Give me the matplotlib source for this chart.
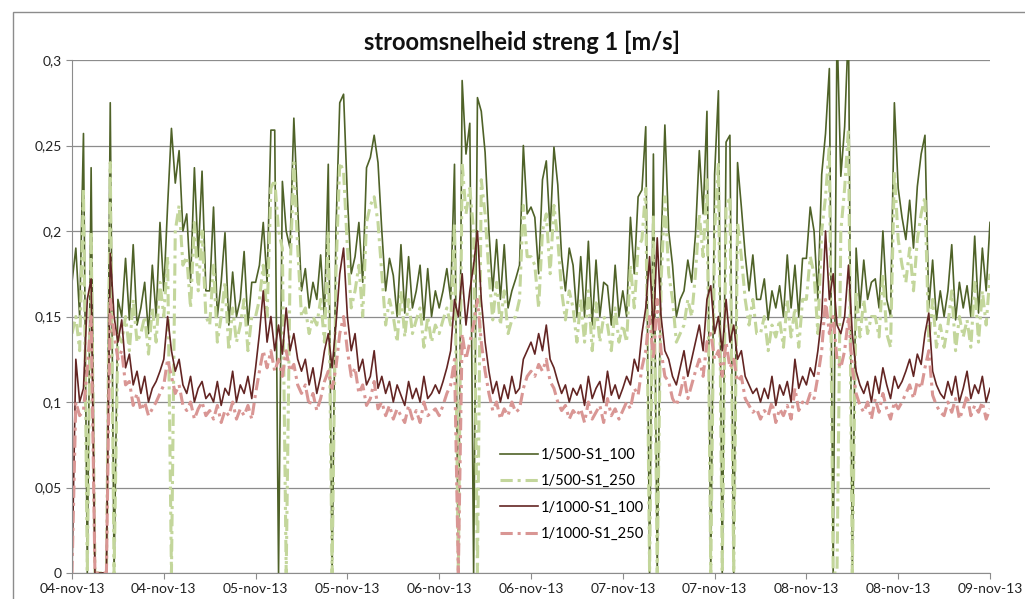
import matplotlib
matplotlib.use('Agg')

import matplotlib.pyplot as plt
import matplotlib.patches as patches
import numpy as np
import pandas as pd

plt.rcParams['font.family'] = ['Lato', 'DejaVu Sans']

# stroomsnelheid per half uur, in mm/s
s500_100 = [
    170, 190, 150, 257, 0, 237, 0, 0, 0, 0, 275, 0,
    160, 150, 184, 148, 192, 145, 155, 170, 140, 180, 150, 205,
    165, 215, 260, 228, 247, 200, 210, 170, 237, 185, 235, 165,
    165, 214, 150, 170, 199, 145, 176, 150, 160, 188, 145, 170,
    170, 180, 205, 170, 259, 259, 0, 229, 200, 190, 266, 214,
    165, 178, 155, 170, 160, 186, 150, 239, 0, 200, 275, 280,
    220, 175, 185, 205, 170, 237, 243, 256, 240, 200, 165, 184,
    174, 150, 192, 152, 185, 155, 165, 180, 148, 178, 150, 165,
    155, 165, 178, 160, 239, 0, 288, 245, 263, 0, 278, 270,
    246, 200, 165, 195, 160, 192, 155, 165, 172, 180, 250, 210,
    214, 208, 175, 230, 241, 200, 249, 227, 185, 165, 190, 180,
    150, 185, 150, 194, 145, 183, 150, 170, 168, 145, 180, 150,
    165, 150, 208, 175, 220, 224, 261, 0, 245, 0, 190, 262,
    200, 180, 150, 160, 165, 183, 170, 198, 247, 210, 270, 0,
    233, 282, 0, 252, 256, 0, 240, 214, 186, 165, 186, 160,
    160, 172, 148, 165, 155, 168, 150, 186, 155, 180, 150, 184,
    184, 214, 200, 160, 233, 257, 295, 0, 320, 232, 261, 320,
    0, 190, 155, 183, 160, 170, 172, 155, 200, 160, 150, 275,
    225, 208, 195, 218, 190, 226, 245, 256, 155, 183, 148, 165,
    150, 165, 192, 148, 170, 155, 168, 150, 197, 152, 190, 165, 205,
]

s500_250 = [
    140, 150, 130, 225, 0, 200, 0, 0, 0, 0, 240, 0,
    140, 135, 150, 130, 160, 135, 140, 150, 128, 155, 135, 170,
    150, 185, 0, 200, 215, 180, 185, 155, 205, 165, 200, 150,
    145, 180, 135, 150, 170, 130, 155, 135, 145, 160, 130, 150,
    150, 160, 180, 150, 225, 230, 200, 190, 0, 175, 240, 190,
    150, 155, 140, 150, 145, 160, 135, 200, 0, 175, 240, 235,
    190, 155, 165, 180, 150, 205, 215, 220, 205, 175, 145, 160,
    150, 135, 165, 138, 160, 140, 148, 155, 132, 150, 135, 145,
    140, 148, 155, 145, 205, 0, 240, 210, 225, 200, 0, 230,
    210, 175, 148, 170, 145, 165, 140, 148, 150, 160, 215, 185,
    185, 180, 155, 200, 210, 175, 215, 195, 165, 148, 165, 155,
    135, 160, 135, 165, 130, 158, 135, 150, 145, 130, 155, 135,
    145, 135, 180, 155, 190, 195, 225, 0, 210, 0, 170, 220,
    175, 160, 135, 140, 145, 160, 150, 175, 210, 185, 230, 0,
    200, 240, 0, 215, 220, 0, 205, 185, 160, 145, 160, 140,
    140, 150, 130, 145, 138, 148, 132, 160, 138, 155, 132, 160,
    160, 185, 175, 140, 200, 220, 250, 0, 0, 200, 225, 260,
    0, 165, 138, 160, 140, 150, 150, 138, 175, 140, 132, 235,
    195, 180, 170, 190, 165, 195, 210, 220, 135, 160, 132, 145,
    132, 145, 165, 130, 150, 138, 148, 132, 170, 135, 165, 145, 175,
]

s1000_100 = [
    0, 125, 100, 108, 160, 172, 0, 0, 0, 0, 187, 150,
    135, 148, 120, 128, 110, 118, 105, 115, 100, 108, 112, 118,
    125, 150, 130, 118, 125, 110, 105, 115, 100, 108, 112, 102,
    105, 100, 112, 98, 108, 104, 118, 100, 110, 105, 115, 102,
    120, 140, 165, 135, 150, 130, 145, 128, 155, 130, 140, 125,
    118, 125, 110, 120, 105, 115, 130, 140, 120, 145, 175, 190,
    150, 130, 140, 118, 125, 110, 115, 130, 108, 115, 105, 112,
    100, 110, 104, 98, 112, 102, 108, 100, 115, 102, 105, 110,
    105, 112, 120, 130, 160, 150, 175, 145, 165, 180, 200, 160,
    135, 118, 105, 112, 100, 110, 102, 115, 105, 108, 125, 130,
    135, 128, 140, 130, 145, 125, 120, 112, 105, 110, 100, 108,
    104, 110, 98, 115, 102, 108, 112, 100, 118, 104, 110, 102,
    108, 115, 110, 125, 118, 140, 155, 185, 140, 196, 150, 130,
    125, 115, 110, 120, 130, 115, 125, 135, 145, 130, 160, 168,
    140, 150, 130, 160, 135, 145, 125, 130, 115, 110, 105, 108,
    100, 108, 102, 115, 98, 110, 104, 112, 100, 125, 108, 115,
    110, 120, 115, 130, 150, 200, 160, 175, 145, 140, 150, 180,
    140, 118, 110, 105, 112, 100, 115, 105, 120, 110, 102, 115,
    108, 112, 118, 125, 115, 128, 122, 140, 152, 118, 110, 105,
    102, 112, 104, 115, 100, 108, 118, 102, 110, 105, 115, 100, 108,
]

s1000_250 = [
    0, 100, 92, 95, 120, 150, 0, 0, 0, 0, 160, 140,
    125, 130, 110, 112, 98, 105, 95, 100, 92, 96, 100, 105,
    110, 125, 115, 105, 110, 98, 95, 100, 90, 96, 100, 92,
    95, 90, 98, 88, 95, 92, 100, 90, 96, 92, 98, 90,
    105, 118, 130, 120, 130, 118, 125, 115, 130, 118, 122, 110,
    105, 110, 98, 105, 95, 102, 112, 118, 108, 120, 140, 150,
    130, 115, 120, 105, 110, 98, 102, 112, 96, 100, 92, 98,
    90, 96, 92, 88, 98, 90, 95, 88, 100, 92, 94, 96,
    92, 98, 105, 110, 125, 0, 140, 125, 135, 145, 160, 135,
    118, 105, 95, 100, 90, 96, 92, 100, 94, 96, 108, 115,
    118, 115, 122, 118, 125, 112, 108, 100, 95, 98, 90, 95,
    92, 96, 88, 100, 90, 94, 98, 88, 102, 92, 96, 90,
    95, 100, 96, 108, 104, 120, 130, 150, 125, 160, 130, 115,
    112, 102, 98, 105, 115, 102, 110, 118, 125, 115, 135, 140,
    125, 130, 115, 135, 120, 125, 112, 115, 102, 98, 94, 96,
    90, 95, 92, 100, 88, 96, 92, 98, 90, 108, 95, 100,
    98, 105, 102, 115, 130, 160, 140, 150, 125, 120, 130, 150,
    120, 105, 98, 94, 100, 90, 102, 94, 105, 96, 90, 100,
    96, 100, 105, 110, 102, 112, 108, 120, 130, 104, 98, 94,
    92, 100, 94, 102, 90, 96, 104, 92, 98, 94, 100, 90, 96,
]

series_labels = ['1/500-S1_100', '1/500-S1_250', '1/1000-S1_100', '1/1000-S1_250']
x_labels = ['04-nov-13', '04-nov-13', '05-nov-13', '05-nov-13', '06-nov-13', '06-nov-13',
            '07-nov-13', '07-nov-13', '08-nov-13', '08-nov-13', '09-nov-13']
y_ticks = [0, 0.05, 0.1, 0.15, 0.2, 0.25, 0.3]
y_labels = ['0', '0,05', '0,1', '0,15', '0,2', '0,25', '0,3']

times = pd.date_range('2013-11-04 00:00', periods=len(s500_100), freq='30min')
x_ticks = pd.date_range('2013-11-04 00:00', periods=len(x_labels), freq='12h')

fig = plt.figure(figsize=(10.25, 5.99), dpi=100)
ax = fig.add_axes([72 / 1025, 1 - 573 / 599, 918 / 1025, 513 / 599])

# rand om de hele grafiek
fig.patches.append(patches.Rectangle((13 / 1025, -0.1), 1.2, 1 - 12 / 599 + 0.1,
                                     transform=fig.transFigure, fill=False,
                                     edgecolor='#8c8c8c', lw=1.0))

dashdot = (0, (4, 1.6, 1, 1.6))
ax.plot(times, np.array(s500_100) / 1000, color='#4f6228', lw=1.2, label=series_labels[0])
ax.plot(times, np.array(s500_250) / 1000, color='#c3d69b', lw=2.2, ls=dashdot, label=series_labels[1])
ax.plot(times, np.array(s1000_100) / 1000, color='#632523', lw=1.2, label=series_labels[2])
ax.plot(times, np.array(s1000_250) / 1000, color='#d99694', lw=2.2, ls=dashdot, label=series_labels[3])

ax.set_xlim(times[0], times[-1])
ax.set_ylim(0, 0.3)
ax.set_xticks(x_ticks)
ax.set_xticklabels(x_labels)
ax.set_yticks(y_ticks)
ax.set_yticklabels(y_labels)
ax.grid(axis='y', color='#8c8c8c', lw=0.9)
ax.set_axisbelow(True)

for side in ['top', 'right']:
    ax.spines[side].set_visible(False)
for side in ['left', 'bottom']:
    ax.spines[side].set_color('#8c8c8c')
ax.tick_params(axis='both', colors='#8c8c8c', labelcolor='#222222', labelsize=10, length=4)
ax.tick_params(axis='x', pad=3)

fig.text(0.509, 1 - 42 / 599, 'stroomsnelheid streng 1 [m/s]', ha='center', va='center',
         fontsize=17, fontweight='bold', color='#111111')

ax.legend(loc='upper left', bbox_to_anchor=(0.452, 0.27), frameon=False, fontsize=10.5,
          handlelength=2.6, handletextpad=0.2, labelspacing=0.85)

fig.savefig('out.png', dpi=100)
